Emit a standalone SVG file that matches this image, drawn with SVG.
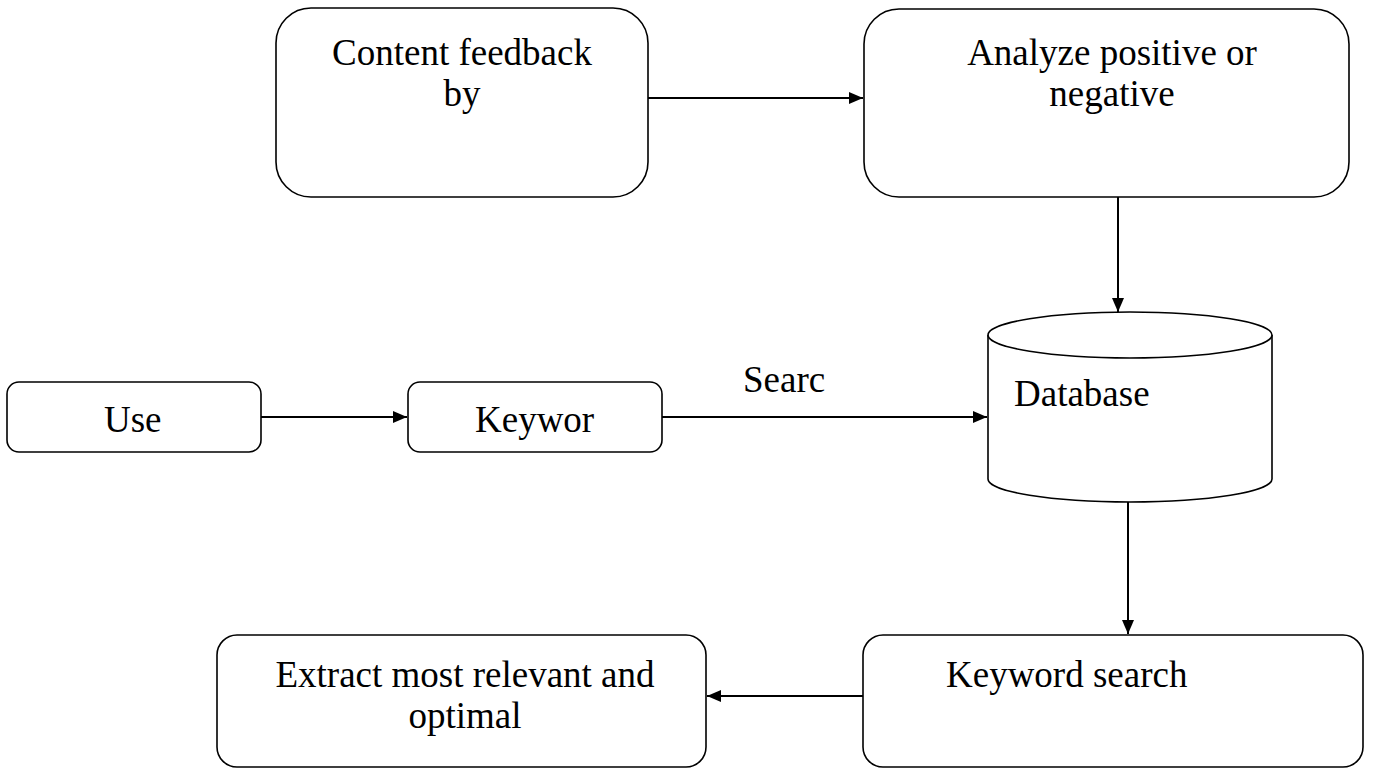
<svg xmlns="http://www.w3.org/2000/svg" width="1382" height="768" viewBox="0 0 1382 768">
  <style>
    .box { fill: #ffffff; stroke: #000000; stroke-width: 1.6; }
    .lbl { font-family: "Liberation Serif", "Times New Roman", serif; font-size: 37px; fill: #000000; }
    .mid { text-anchor: middle; }
    .edge { fill: none; stroke: #000000; stroke-width: 2; }
  </style>
  <defs>
    <marker id="arrow" viewBox="0 0 14 12" refX="14" refY="6" markerWidth="14" markerHeight="12" markerUnits="userSpaceOnUse" orient="auto">
      <path d="M0,0 L14,6 L0,12 Z" fill="#000000"/>
    </marker>
  </defs>
  <rect width="1382" height="768" fill="#ffffff"/>

  <g id="node-content-feedback">
    <rect class="box" x="276" y="8" width="372" height="189" rx="35" ry="35"/>
    <text class="lbl mid" x="462" y="65">Content feedback</text>
    <text class="lbl mid" x="462" y="106">by</text>
  </g>

  <g id="node-analyze">
    <rect class="box" x="864" y="9" width="485" height="188" rx="35" ry="35"/>
    <text class="lbl mid" x="1112" y="65">Analyze positive or</text>
    <text class="lbl mid" x="1112" y="106">negative</text>
  </g>

  <g id="node-user">
    <rect class="box" x="7" y="382" width="254" height="70" rx="12" ry="12"/>
    <text class="lbl" x="104" y="432">Use</text>
  </g>

  <g id="node-keyword">
    <rect class="box" x="408" y="382" width="254" height="70" rx="12" ry="12"/>
    <text class="lbl" x="475" y="432">Keywor</text>
  </g>

  <g id="node-database">
    <path class="box" d="M988,335 L988,479 A142,23 0 0 0 1272,479 L1272,335"/>
    <ellipse class="box" cx="1130" cy="335" rx="142" ry="23"/>
    <text class="lbl" x="1014" y="406">Database</text>
  </g>

  <g id="node-keyword-search">
    <rect class="box" x="863" y="635" width="500" height="132" rx="20" ry="20"/>
    <text class="lbl" x="946" y="687">Keyword search</text>
  </g>

  <g id="node-extract">
    <rect class="box" x="217" y="635" width="489" height="132" rx="20" ry="20"/>
    <text class="lbl mid" x="465" y="687">Extract most relevant and</text>
    <text class="lbl mid" x="465" y="728">optimal</text>
  </g>

  <g id="connectors">
    <line class="edge" x1="648" y1="98" x2="863" y2="98" marker-end="url(#arrow)"/>
    <line class="edge" x1="1118" y1="197" x2="1118" y2="312" marker-end="url(#arrow)"/>
    <line class="edge" x1="261" y1="417" x2="407" y2="417" marker-end="url(#arrow)"/>
    <line class="edge" x1="662" y1="417" x2="987" y2="417" marker-end="url(#arrow)"/>
    <text class="lbl" x="743" y="392">Searc</text>
    <line class="edge" x1="1128" y1="502" x2="1128" y2="634" marker-end="url(#arrow)"/>
    <line class="edge" x1="863" y1="696" x2="707" y2="696" marker-end="url(#arrow)"/>
  </g>
</svg>
